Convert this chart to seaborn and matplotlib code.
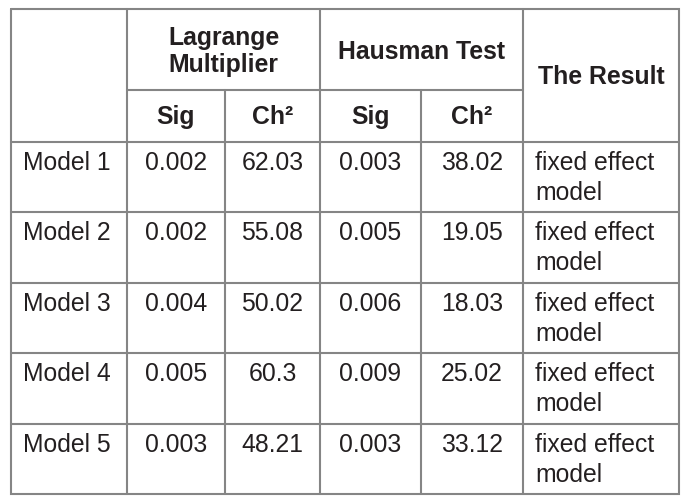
import matplotlib.pyplot as plt
import seaborn as sns

models = ['Model 1', 'Model 2', 'Model 3', 'Model 4', 'Model 5']
lm_sig = ['0.002', '0.002', '0.004', '0.005', '0.003']
lm_ch2 = ['62.03', '55.08', '50.02', '60.3', '48.21']
hm_sig = ['0.003', '0.005', '0.006', '0.009', '0.003']
hm_ch2 = ['38.02', '19.05', '18.03', '25.02', '33.12']
result = ['fixed effect\nmodel'] * 5

sns.set_theme(style="white")
plt.rcParams['font.family'] = ['Liberation Sans', 'DejaVu Sans']

# layout in pixels
xs = [11, 127, 225, 320, 421, 523, 679]
y_top, y_h1, y_h2 = 9, 90, 142
row_h = 70.4
line_col = '#858585'
txt_col = '#231f20'
fs = 17.8

fig = plt.figure(figsize=(6.99, 4.97), dpi=100)
ax = fig.add_axes([0, 0, 1, 1])
ax.set_xlim(0, 699)
ax.set_ylim(497, 0)
ax.axis('off')

n = len(models)
y_bot = y_h2 + n * row_h
lw = 1.5

# outer frame
ax.plot([xs[0], xs[-1], xs[-1], xs[0], xs[0]], [y_top, y_top, y_bot, y_bot, y_top],
        color=line_col, lw=lw, solid_joinstyle='miter')
# vertical lines
for i in [1, 3, 5]:
    ax.plot([xs[i], xs[i]], [y_top, y_bot], color=line_col, lw=lw)
for i in [2, 4]:
    ax.plot([xs[i], xs[i]], [y_h1, y_bot], color=line_col, lw=lw)
# horizontal lines
ax.plot([xs[1], xs[5]], [y_h1, y_h1], color=line_col, lw=lw)
for r in range(n):
    y = y_h2 + r * row_h
    ax.plot([xs[0], xs[-1]], [y, y], color=line_col, lw=lw)

def mid(a, b):
    return (xs[a] + xs[b]) / 2

hdr = dict(fontsize=fs, fontweight='bold', color=txt_col, ha='center', va='center')
ax.text(mid(1, 3), 38, 'Lagrange', **hdr)
ax.text(mid(1, 3), 65, 'Multiplier', **hdr)
ax.text(mid(3, 5), 52, 'Hausman Test', **hdr)
ax.text(mid(5, 6), 77, 'The Result', **hdr)
for a in [1, 3]:
    ax.text(mid(a, a + 1), 117, 'Sig', **hdr)
    ax.text(mid(a + 1, a + 2), 117, 'Ch²', **hdr)

cell = dict(fontsize=fs, color=txt_col, va='center')
for r in range(n):
    yc = y_h2 + r * row_h + 21
    ax.text(xs[0] + 12, yc, models[r], ha='left', **cell)
    for c, col in enumerate([lm_sig, lm_ch2, hm_sig, hm_ch2]):
        ax.text(mid(c + 1, c + 2), yc, col[r], ha='center', **cell)
    line1, line2 = result[r].split('\n')
    ax.text(xs[5] + 12, yc, line1, ha='left', **cell)
    ax.text(xs[5] + 12, yc + 30, line2, ha='left', **cell)

fig.savefig('out.png', dpi=100, facecolor='white')
